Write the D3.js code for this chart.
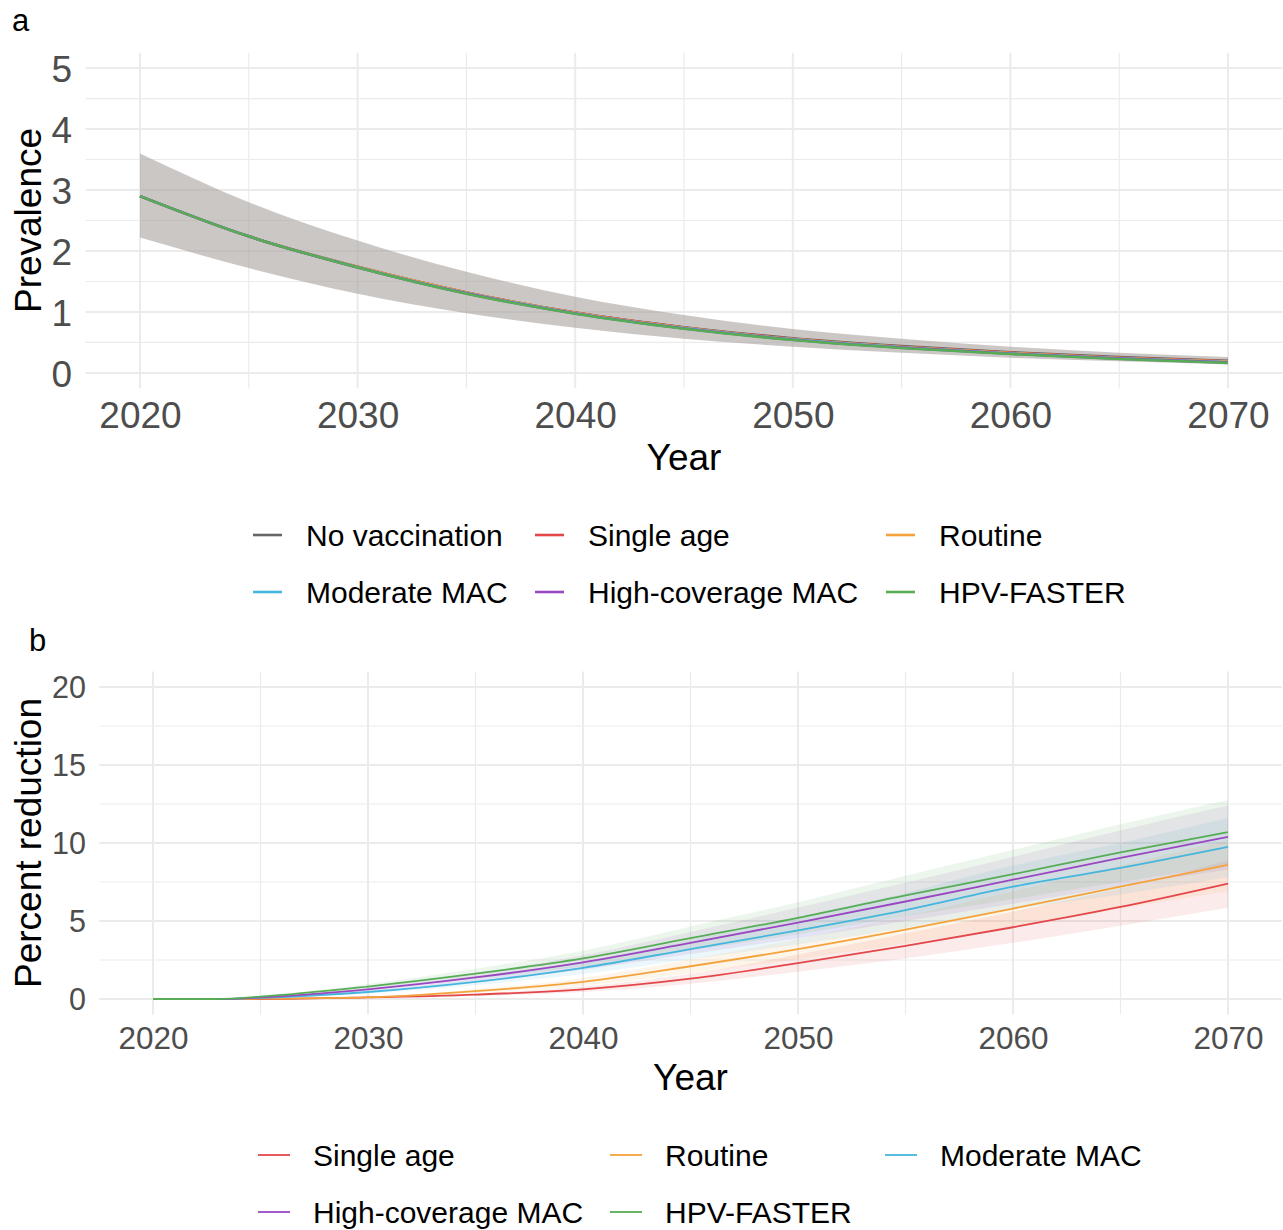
<!DOCTYPE html>
<html><head><meta charset="utf-8">
<script src="https://cdn.jsdelivr.net/npm/d3@7"></script>
<style>body{margin:0;background:#fff}svg{display:block}text{font-family:"Liberation Sans",Arial,sans-serif}</style>
</head><body><svg id="c" width="1283" height="1230"></svg>
<script>
// ---------- Panel a data (prevalence) ----------
const yearsA = [2020,2025,2030,2035,2040,2045,2050,2055,2060,2065,2070];
const prevNoVac    = [2.9,2.24,1.74,1.32,0.99,0.75,0.57,0.44,0.34,0.26,0.2];
const prevSingle   = [2.9,2.24,1.74,1.32,0.99,0.745,0.56,0.43,0.33,0.25,0.19];
const prevRoutine  = [2.9,2.24,1.74,1.32,0.985,0.74,0.555,0.425,0.325,0.245,0.185];
const prevModerate = [2.9,2.24,1.735,1.31,0.98,0.735,0.55,0.42,0.32,0.24,0.178];
const prevHigh     = [2.9,2.24,1.73,1.305,0.975,0.73,0.545,0.415,0.315,0.235,0.172];
const prevFaster   = [2.9,2.24,1.73,1.3,0.97,0.725,0.54,0.41,0.31,0.23,0.165];
const prevLo = [2.22,1.72,1.3,0.98,0.74,0.56,0.43,0.33,0.25,0.19,0.14];
const prevHi = [3.6,2.8,2.17,1.66,1.25,0.95,0.72,0.56,0.43,0.33,0.26];
const yTicksA = [0,1,2,3,4,5];
const xTicks = [2020,2030,2040,2050,2060,2070];

// ---------- Panel b data (percent reduction) ----------
const yearsB = [2020,2023,2025,2030,2035,2040,2045,2050,2055,2060,2065,2070];
const redSingle   = [0,0,0,0.1,0.28,0.62,1.3,2.3,3.4,4.6,5.9,7.4];
const redRoutine  = [0,0,0.02,0.1,0.5,1.1,2.1,3.2,4.45,5.8,7.2,8.6];
const redModerate = [0,0,0.08,0.45,1.1,2.0,3.2,4.4,5.7,7.2,8.4,9.75];
const redHigh     = [0,0,0.1,0.62,1.38,2.35,3.6,4.9,6.25,7.65,9.05,10.4];
const redFaster   = [0,0,0.15,0.8,1.62,2.6,3.9,5.2,6.65,8.0,9.4,10.7];
const loSingle   = [0,0,0,0.06,0.2,0.45,0.98,1.75,2.6,3.6,4.7,5.85];
const hiSingle   = [0,0,0,0.14,0.36,0.8,1.62,2.85,4.2,5.6,7.1,8.9];
const loRoutine  = [0,0,0.01,0.07,0.38,0.85,1.65,2.55,3.55,4.65,5.8,6.9];
const hiRoutine  = [0,0,0.03,0.13,0.62,1.35,2.55,3.85,5.3,6.9,8.55,10.2];
const loModerate = [0,0,0.05,0.35,0.88,1.6,2.55,3.5,4.55,5.75,6.7,7.8];
const hiModerate = [0,0,0.11,0.55,1.32,2.4,3.8,5.25,6.8,8.55,10.0,11.6];
const loHigh     = [0,0,0.07,0.5,1.1,1.88,2.88,3.9,5.0,6.1,7.25,8.3];
const hiHigh     = [0,0,0.13,0.74,1.65,2.8,4.3,5.85,7.45,9.1,10.8,12.4];
const loFaster   = [0,0,0.11,0.64,1.3,2.08,3.12,4.15,5.3,6.4,7.5,8.55];
const hiFaster   = [0,0,0.19,0.96,1.94,3.1,4.65,6.2,7.9,9.55,11.2,12.75];
const yTicksB = [0,5,10,15,20];

const names = ["No vaccination","Single age","Routine","Moderate MAC","High-coverage MAC","HPV-FASTER"];
const colors = {"No vaccination":"#666666","Single age":"#e4474a","Routine":"#f4a33c","Moderate MAC":"#45b6dc","High-coverage MAC":"#9a48c2","HPV-FASTER":"#56ad56"};

const svg = d3.select("#c");
const grid = "#ebebeb";

function panel(cfg){
  const x = d3.scaleLinear().domain([2017.5,2072.5]).range(cfg.xr);
  const y = d3.scaleLinear().domain(cfg.yd).range(cfg.yr);
  const g = svg.append("g");
  const minorX = d3.range(2015,2080,10).filter(v=>v>2017.5&&v<2072.5);
  g.selectAll(".mx").data(minorX).join("line").attr("x1",d=>x(d)).attr("x2",d=>x(d))
    .attr("y1",cfg.yr[0]).attr("y2",cfg.yr[1]).attr("stroke",grid).attr("stroke-width",1.2);
  g.selectAll(".my").data(cfg.minorY).join("line").attr("y1",d=>y(d)).attr("y2",d=>y(d))
    .attr("x1",cfg.xr[0]).attr("x2",cfg.xr[1]).attr("stroke",grid).attr("stroke-width",1.2);
  g.selectAll(".Mx").data(xTicks).join("line").attr("x1",d=>x(d)).attr("x2",d=>x(d))
    .attr("y1",cfg.yr[0]).attr("y2",cfg.yr[1]).attr("stroke",grid).attr("stroke-width",2);
  g.selectAll(".My").data(cfg.yTicks).join("line").attr("y1",d=>y(d)).attr("y2",d=>y(d))
    .attr("x1",cfg.xr[0]).attr("x2",cfg.xr[1]).attr("stroke",grid).attr("stroke-width",2);
  const ax = g.append("g").attr("transform",`translate(0,${cfg.xLabY})`)
    .call(d3.axisBottom(x).tickValues(xTicks).tickFormat(d3.format("d")).tickSize(0).tickPadding(0));
  ax.select(".domain").remove();
  ax.selectAll("text").attr("font-size",cfg.tickFs).attr("fill","#4d4d4d").attr("dy",0)
    .attr("font-family","Liberation Sans, Arial, sans-serif");
  const ay = g.append("g").attr("transform",`translate(${cfg.yLabX},0)`)
    .call(d3.axisLeft(y).tickValues(cfg.yTicks).tickFormat(d3.format("d")).tickSize(0).tickPadding(0));
  ay.select(".domain").remove();
  ay.selectAll("text").attr("font-size",cfg.yTickFs).attr("fill","#4d4d4d").attr("dy","0.36em")
    .attr("font-family","Liberation Sans, Arial, sans-serif");
  g.append("text").attr("x",(cfg.xr[0]+cfg.xr[1])/2).attr("y",cfg.xTitleY).attr("text-anchor","middle")
    .attr("font-size",37).attr("fill","#000").text("Year");
  g.append("text").attr("transform",`translate(${cfg.yTitleX},${(cfg.yr[0]+cfg.yr[1])/2}) rotate(-90)`)
    .attr("text-anchor","middle").attr("font-size",37).attr("fill","#000").text(cfg.yTitle);
  return {x,y,g};
}

// Panel a
const A = panel({xr:[85.6,1282.4], yd:[-0.25,5.25], yr:[388.2,52.8], yTicks:yTicksA,
  minorY:[0.5,1.5,2.5,3.5,4.5], xLabY:428, yLabX:72, tickFs:37, yTickFs:37,
  xTitleY:470, yTitleX:41, yTitle:"Prevalence"});
const areaA = d3.area().x((d,i)=>A.x(yearsA[i])).y0(d=>A.y(d[0])).y1(d=>A.y(d[1])).curve(d3.curveMonotoneX);
A.g.append("path").datum(prevLo.map((v,i)=>[v,prevHi[i]])).attr("d",areaA)
  .attr("fill","rgb(166,158,155)").attr("fill-opacity",0.58);
const lineA = d3.line().x((d,i)=>A.x(yearsA[i])).y(d=>A.y(d)).curve(d3.curveMonotoneX);
const seriesA = [prevNoVac,prevSingle,prevRoutine,prevModerate,prevHigh,prevFaster];
seriesA.forEach((s,k)=>{
  A.g.append("path").datum(s).attr("d",lineA).attr("fill","none")
    .attr("stroke",colors[names[k]]).attr("stroke-width",2.6);
});

// Panel b
const B = panel({xr:[99.25,1281.75], yd:[-1,21], yr:[1014.6,671.4], yTicks:yTicksB,
  minorY:[2.5,7.5,12.5,17.5], xLabY:1049, yLabX:86, tickFs:31.5, yTickFs:30.5,
  xTitleY:1090, yTitleX:41, yTitle:"Percent reduction"});
const seriesB = [redSingle,redRoutine,redModerate,redHigh,redFaster];
const losB = [loSingle,loRoutine,loModerate,loHigh,loFaster];
const hisB = [hiSingle,hiRoutine,hiModerate,hiHigh,hiFaster];
const areaB = d3.area().x((d,i)=>B.x(yearsB[i])).y0(d=>B.y(d[0])).y1(d=>B.y(d[1])).curve(d3.curveMonotoneX);
seriesB.forEach((s,k)=>{
  B.g.append("path").datum(losB[k].map((v,i)=>[v,hisB[k][i]])).attr("d",areaB)
    .attr("fill",colors[names[k+1]]).attr("fill-opacity",0.11);
});
const lineB = d3.line().x((d,i)=>B.x(yearsB[i])).y(d=>B.y(d)).curve(d3.curveMonotoneX);
seriesB.forEach((s,k)=>{
  B.g.append("path").datum(s).attr("d",lineB).attr("fill","none")
    .attr("stroke",colors[names[k+1]]).attr("stroke-width",1.8);
});

// Panel tags
svg.append("text").attr("x",12).attr("y",31).attr("font-size",31).attr("fill","#000").text("a");
svg.append("text").attr("x",29).attr("y",651).attr("font-size",31).attr("fill","#000").text("b");

// Legends
function legend(items, cols, rows, keyW, textOff, sw){
  items.forEach((n,i)=>{
    const cx = cols[i%3], cy = rows[Math.floor(i/3)];
    svg.append("line").attr("x1",cx).attr("x2",cx+keyW).attr("y1",cy).attr("y2",cy)
      .attr("stroke",colors[n]).attr("stroke-width",sw);
    svg.append("text").attr("x",cx+textOff).attr("y",cy).attr("dy","0.35em")
      .attr("font-size",30).attr("fill","#000").text(n);
  });
}
legend(names,[253,535,886],[535,592],29,53,2.6);
legend(names.slice(1),[258,610,885],[1155,1212],32,55,1.8);
</script></body></html>
